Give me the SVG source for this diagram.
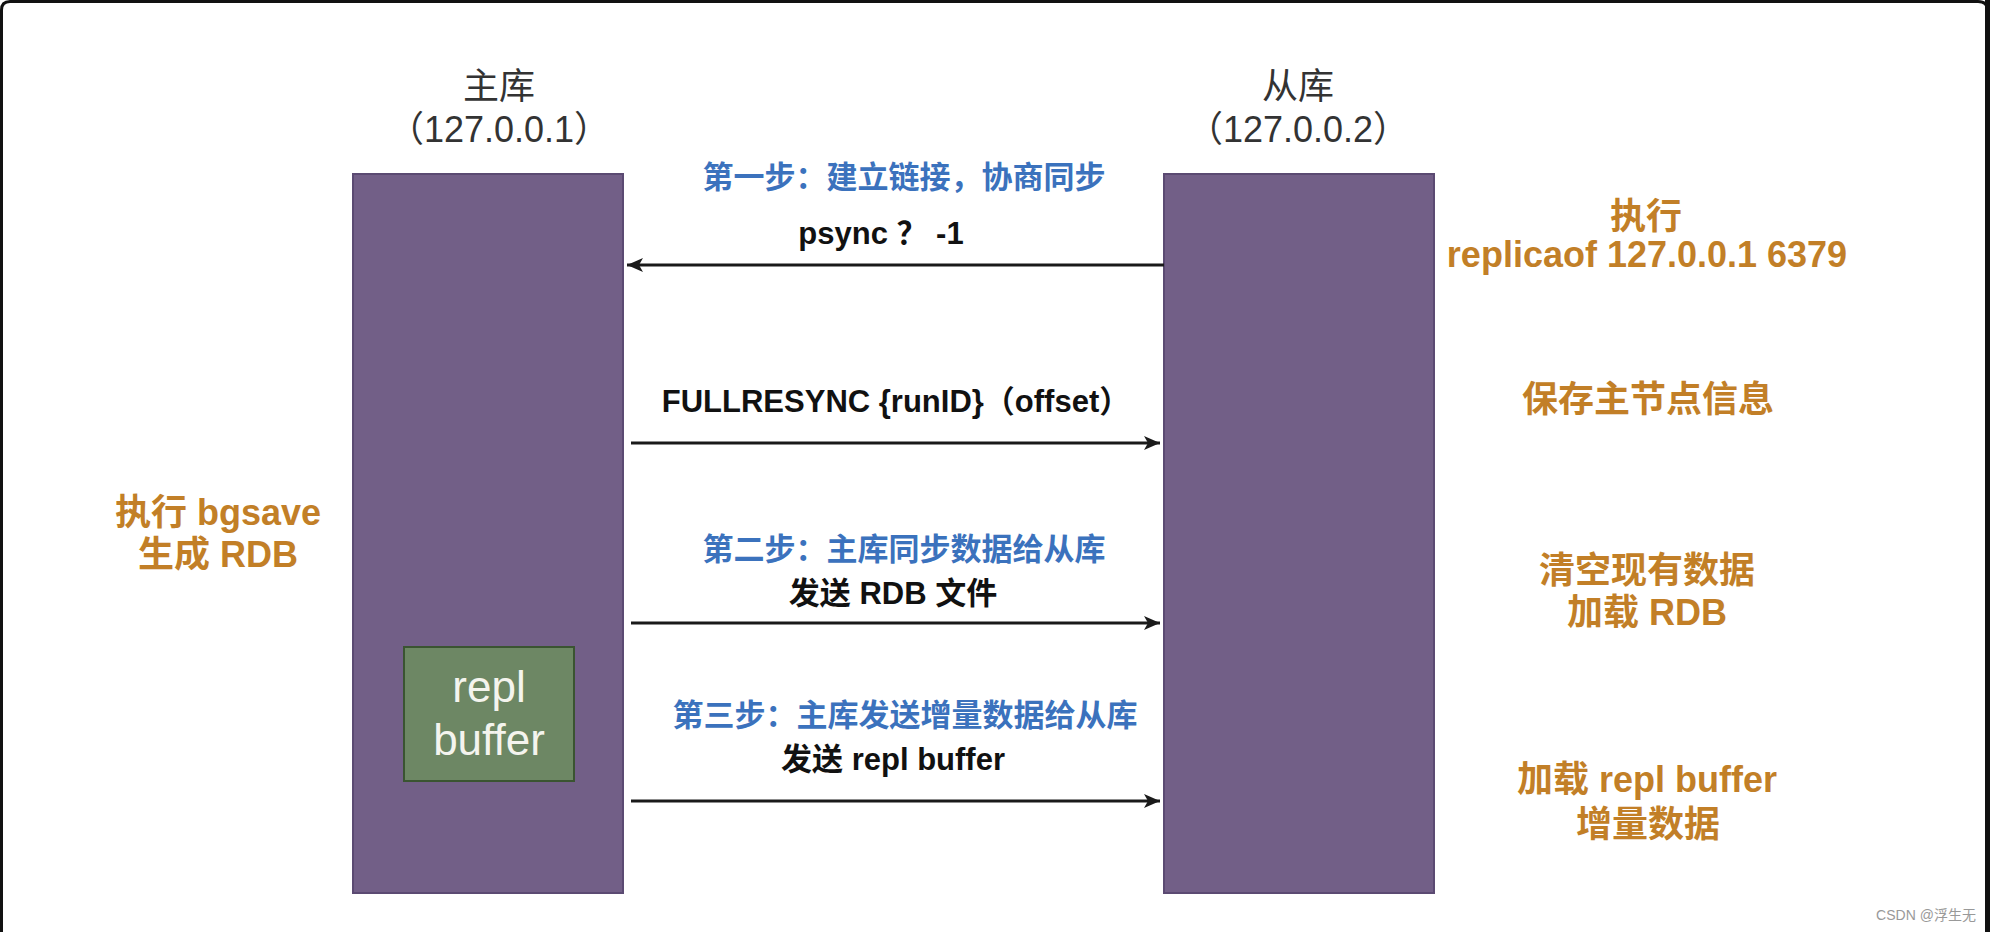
<svg xmlns="http://www.w3.org/2000/svg" width="1990" height="932" viewBox="0 0 1990 932">
<style>
text{font-family:"Liberation Sans","Noto Sans CJK SC",sans-serif;text-anchor:middle}
.title{font-size:36px;fill:#333}
.blue{font-size:31px;font-weight:bold;fill:#3b72bd}
.blk{font-size:31px;font-weight:bold;fill:#111}
.org{font-size:36px;font-weight:bold;fill:#c27f27}
.buf{font-size:44px;fill:#f4f4ee}
.db{fill:#725f87;stroke:#5b4a72;stroke-width:2}
.edge{stroke:#1a1a1a;stroke-width:3;fill:none;marker-end:url(#arr)}
</style>
<defs>
<marker id="arr" markerUnits="userSpaceOnUse" markerWidth="18" markerHeight="16" refX="16" refY="8" orient="auto">
<path d="M0,1 L16,8 L0,15 L4,8 z" fill="#1a1a1a"/>
</marker>
</defs>
<rect width="1990" height="932" fill="#fff"/>
<path d="M1.5,940 V10 Q1.5,1.5 10,1.5 H1978 Q1987.5,1.5 1987.5,10 V940" fill="none" stroke="#111" stroke-width="3"/>
<rect x="1985" y="0" width="5" height="932" fill="#111"/>

<g id="master">
<rect class="db" x="353" y="174" width="270" height="719"/>
<text class="title" x="499" y="99">主库</text>
<text class="title" x="499" y="142">（127.0.0.1）</text>
</g>
<g id="replbuffer">
<rect x="404" y="647" width="170" height="134" fill="#6d8764" stroke="#3a5431" stroke-width="2"/>
<text class="buf" x="489" y="702">repl</text>
<text class="buf" x="489" y="755">buffer</text>
</g>
<g id="slave">
<rect class="db" x="1164" y="174" width="270" height="719"/>
<text class="title" x="1298" y="99">从库</text>
<text class="title" x="1298" y="142">（127.0.0.2）</text>
</g>

<g id="connectors">
<line class="edge" x1="1164" y1="265" x2="627" y2="265"/>
<line class="edge" x1="631" y1="443" x2="1160" y2="443"/>
<line class="edge" x1="631" y1="623" x2="1160" y2="623"/>
<line class="edge" x1="631" y1="801" x2="1160" y2="801"/>
</g>

<g id="labels">
<text class="blue" x="904" y="188">第一步：建立链接，协商同步</text>
<text class="blk" x="881" y="244">psync ？ -1</text>
<text class="blk" x="896" y="412">FULLRESYNC {runID}（offset）</text>
<text class="blue" x="904" y="560">第二步：主库同步数据给从库</text>
<text class="blk" x="893" y="604">发送 RDB 文件</text>
<text class="blue" x="905" y="726">第三步：主库发送增量数据给从库</text>
<text class="blk" x="893" y="770">发送 repl buffer</text>
</g>

<g id="slave-notes">
<text class="org" x="1646" y="229">执行</text>
<text class="org" x="1647" y="267">replicaof 127.0.0.1 6379</text>
<text class="org" x="1648" y="412">保存主节点信息</text>
<text class="org" x="1647" y="583">清空现有数据</text>
<text class="org" x="1647" y="625">加载 RDB</text>
<text class="org" x="1647" y="792">加载 repl buffer</text>
<text class="org" x="1648" y="837">增量数据</text>
</g>
<g id="master-notes">
<text class="org" x="218" y="525">执行 bgsave</text>
<text class="org" x="218" y="567">生成 RDB</text>
</g>
<text x="1926" y="920" style="font-size:14px;fill:#999">CSDN @浮生无</text>
</svg>
